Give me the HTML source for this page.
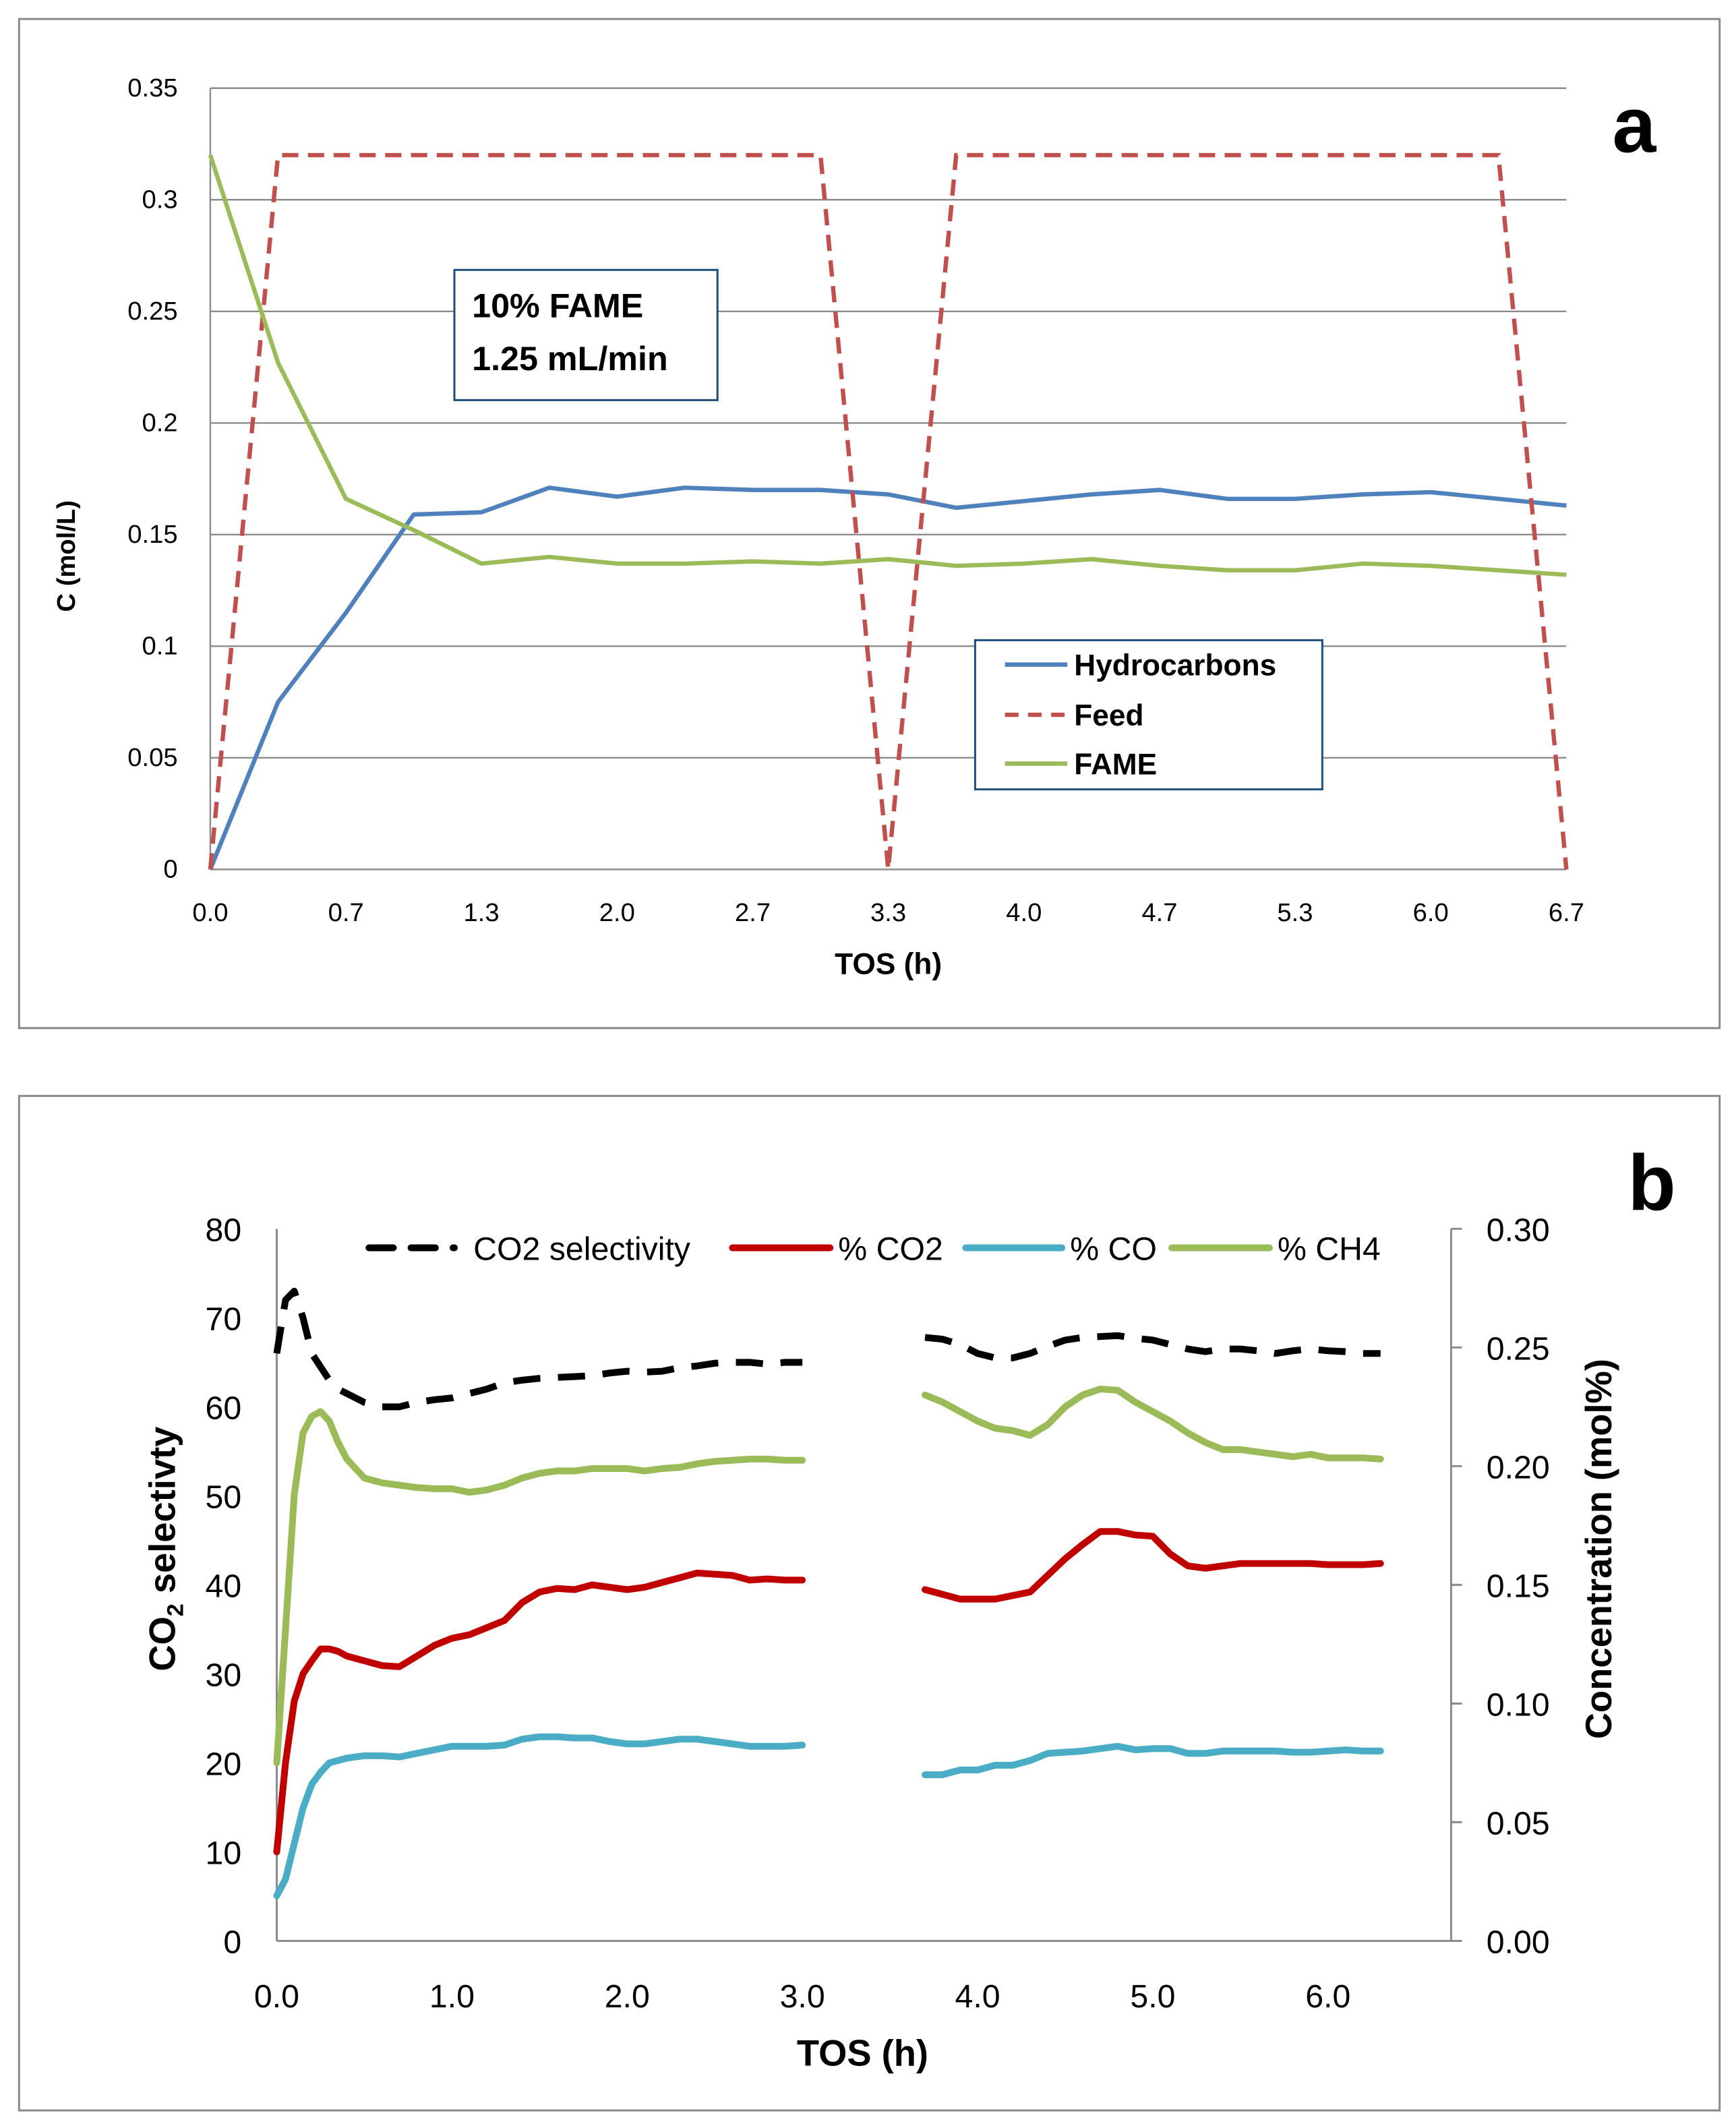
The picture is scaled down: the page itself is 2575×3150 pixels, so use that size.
<!DOCTYPE html>
<html><head><meta charset="utf-8"><style>
html,body{margin:0;padding:0;background:#fff;}
svg{display:block;}
text{font-family:"Liberation Sans",sans-serif;}
</style></head><body>
<svg id="fig" width="2575" height="3150" viewBox="0 0 1280 1566" xmlns="http://www.w3.org/2000/svg">
<rect x="14" y="14" width="1254" height="744" fill="#fff" stroke="#8a8a8a" stroke-width="1.5"/>
<rect x="14" y="808" width="1254" height="748" fill="#fff" stroke="#8a8a8a" stroke-width="1.5"/>
<g id="pa"></g>
<g id="pb"></g>
</svg>
<script>
// ---------- Panel a data ----------
const aTimes = [0,0.333,0.667,1.0,1.333,1.667,2.0,2.333,2.667,3.0,3.333,3.667,4.0,4.333,4.667,5.0,5.333,5.667,6.0,6.333,6.667];
const aHydro = [0,0.075,0.115,0.159,0.160,0.171,0.167,0.171,0.170,0.170,0.168,0.162,0.165,0.168,0.170,0.166,0.166,0.168,0.169,0.166,0.163];
const aFame = [0.32,0.227,0.166,0.152,0.137,0.140,0.137,0.137,0.138,0.137,0.139,0.136,0.137,0.139,0.136,0.134,0.134,0.137,0.136,0.134,0.132];
const aFeedTimes = [0,0.333,3.0,3.333,3.667,6.333,6.667];
const aFeed = [0,0.32,0.32,0,0.32,0.32,0];
const aYTicks = [0,0.05,0.1,0.15,0.2,0.25,0.3,0.35];
const aYTickLabels = ["0","0.05","0.1","0.15","0.2","0.25","0.3","0.35"];
const aXTicks = [0,0.667,1.333,2.0,2.667,3.333,4.0,4.667,5.333,6.0,6.667];
const aXTickLabels = ["0.0","0.7","1.3","2.0","2.7","3.3","4.0","4.7","5.3","6.0","6.7"];

// ---------- Panel b data ----------
const bTimes1 = [0,0.05,0.1,0.15,0.2,0.25,0.3,0.35,0.4,0.5,0.6,0.7,0.8,0.9,1.0,1.1,1.2,1.3,1.4,1.5,1.6,1.7,1.8,1.9,2.0,2.1,2.2,2.3,2.4,2.5,2.6,2.7,2.8,2.9,3.0];
const bTimes2 = [3.7,3.8,3.9,4.0,4.1,4.2,4.3,4.4,4.5,4.6,4.7,4.8,4.9,5.0,5.1,5.2,5.3,5.4,5.5,5.6,5.7,5.8,5.9,6.0,6.1,6.2,6.3];
const selec1 = [66,72,73,70,66,64.5,63,62,61.5,60.5,60,60,60.5,60.8,61,61.5,62,62.7,63,63.2,63.3,63.4,63.5,63.8,64,63.9,64,64.4,64.6,64.9,65,65,64.8,65,65];
const selec2 = [67.8,67.6,67,66,65.5,65.5,66,66.8,67.5,67.8,67.9,68,67.7,67.5,67,66.5,66.2,66.5,66.5,66.3,66,66.3,66.5,66.3,66.2,66,66];
// concentration series in mol%
const ch4Pct1 = [0.075,0.131,0.188,0.214,0.221,0.223,0.219,0.210,0.203,0.195,0.193,0.192,0.191,0.1905,0.1905,0.189,0.190,0.192,0.195,0.197,0.198,0.198,0.199,0.199,0.199,0.198,0.199,0.1995,0.201,0.202,0.2025,0.203,0.203,0.2025,0.2025];
const ch4Pct2 = [0.230,0.227,0.223,0.219,0.216,0.215,0.213,0.2175,0.225,0.230,0.2325,0.232,0.227,0.223,0.219,0.214,0.210,0.207,0.207,0.206,0.205,0.204,0.205,0.2035,0.2035,0.2035,0.203];
const co2Pct1 = [0.0375,0.075,0.101,0.1125,0.118,0.123,0.123,0.122,0.120,0.118,0.116,0.1155,0.120,0.1245,0.1275,0.129,0.132,0.135,0.1425,0.147,0.1485,0.148,0.150,0.149,0.148,0.149,0.151,0.153,0.155,0.1545,0.154,0.152,0.1525,0.152,0.152];
const co2Pct2 = [0.148,0.146,0.144,0.144,0.144,0.1455,0.147,0.154,0.161,0.167,0.1725,0.1725,0.171,0.1705,0.163,0.158,0.157,0.158,0.159,0.159,0.159,0.159,0.159,0.1585,0.1585,0.1585,0.159];
const coPct1 = [0.019,0.026,0.041,0.056,0.066,0.071,0.075,0.076,0.077,0.078,0.078,0.0775,0.079,0.0805,0.082,0.082,0.082,0.0825,0.085,0.086,0.086,0.0855,0.0855,0.084,0.083,0.083,0.084,0.085,0.085,0.084,0.083,0.082,0.082,0.082,0.0825];
const coPct2 = [0.070,0.070,0.072,0.072,0.074,0.074,0.076,0.079,0.0795,0.080,0.081,0.082,0.0805,0.081,0.081,0.079,0.079,0.080,0.080,0.080,0.080,0.0795,0.0795,0.080,0.0805,0.080,0.080];
const bLeftTicks = [0,10,20,30,40,50,60,70,80];
const bRightTicks = [0,0.05,0.10,0.15,0.20,0.25,0.30];
const bRightTickLabels = ["0.00","0.05","0.10","0.15","0.20","0.25","0.30"];
const bXTicks = [0,1,2,3,4,5,6];
const bXTickLabels = ["0.0","1.0","2.0","3.0","4.0","5.0","6.0"];

const NS = "http://www.w3.org/2000/svg";
function mk(parent, tag, attrs, txt){const e=document.createElementNS(NS,tag);for(const k in attrs)e.setAttribute(k,attrs[k]);if(txt!==undefined)e.textContent=txt;parent.appendChild(e);return e;}
function pathD(xs,ys,fx,fy){return xs.map((x,i)=>(i?"L":"M")+fx(x).toFixed(2)+","+fy(ys[i]).toFixed(2)).join(" ");}

// ===== Panel a =====
const pa = document.getElementById('pa');
const ax = t => 155 + t/6.667*1000;
const ay = v => 641 - v/0.35*576;
aYTicks.forEach((v,i)=>{
  if(i>0){const g=mk(pa,'line',{x1:155,x2:1155,y1:ay(v),y2:ay(v),stroke:'#8c8c8c','stroke-width':1.2});
  
  }
  const t=mk(pa,'text',{x:131,y:ay(v)+6,'text-anchor':'end','font-size':19},aYTickLabels[i]);
  
  
});
const aAxis=mk(pa,'line',{x1:155,x2:1155,y1:641,y2:641,stroke:'#8c8c8c','stroke-width':1.2});


const aYAxis=mk(pa,'line',{x1:155,x2:155,y1:65,y2:641,stroke:'#8c8c8c','stroke-width':1.2});


aXTicks.forEach((t,i)=>{
  const l=mk(pa,'text',{x:ax(t),y:679,'text-anchor':'middle','font-size':19},aXTickLabels[i]);
  
  
});
const pHyd=mk(pa,'path',{d:pathD(aTimes,aHydro,ax,ay),fill:'none',stroke:'#4F81BD','stroke-width':3.2,'stroke-linejoin':'round'});


const pFeed=mk(pa,'path',{d:pathD(aFeedTimes,aFeed,ax,ay),fill:'none',stroke:'#C0504D','stroke-width':3.2,'stroke-dasharray':'12,7'});


const pFame=mk(pa,'path',{d:pathD(aTimes,aFame,ax,ay),fill:'none',stroke:'#9BBB59','stroke-width':3.2,'stroke-linejoin':'round'});


let e;
e=mk(pa,'text',{x:655,y:718,'text-anchor':'middle','font-size':22,'font-weight':'bold'},'TOS (h)');


e=mk(pa,'text',{x:0,y:0,'text-anchor':'middle','font-size':19,'font-weight':'bold',transform:'translate(55,410) rotate(-90)'},'C (mol/L)');


e=mk(pa,'text',{x:1205,y:112,'text-anchor':'middle','font-size':58,'font-weight':'bold'},'a');


e=mk(pa,'rect',{x:335,y:199,width:194,height:96,fill:'#fff',stroke:'#1F4E79','stroke-width':1.5});


e=mk(pa,'text',{x:348,y:234,'font-size':25,'font-weight':'bold'},'10% FAME');


e=mk(pa,'text',{x:348,y:273,'font-size':25,'font-weight':'bold'},'1.25 mL/min');


e=mk(pa,'rect',{x:719,y:472,width:256,height:110,fill:'#fff',stroke:'#1F4E79','stroke-width':1.5});


[['Hydrocarbons','#4F81BD',null,490],['Feed','#C0504D','10,7',527],['FAME','#9BBB59',null,563]].forEach(r=>{
  const ln=mk(pa,'line',{x1:741,x2:787,y1:r[3],y2:r[3],stroke:r[1],'stroke-width':3.2});
  if(r[2])ln.setAttribute('stroke-dasharray',r[2]);
  
  
  const tx=mk(pa,'text',{x:792,y:r[3]+8,'font-size':22,'font-weight':'bold'},r[0]);
  
  
});

// ===== Panel b =====
const pb = document.getElementById('pb');
const bx = t => 204 + t*129.2;
const byL = v => 1431 - v*6.5625;
const byR = v => 1431 - v/0.30*525;
e=mk(pb,'line',{x1:204,x2:204,y1:906,y2:1431,stroke:'#8c8c8c','stroke-width':1.5});


e=mk(pb,'line',{x1:1070,x2:1070,y1:906,y2:1431,stroke:'#8c8c8c','stroke-width':1.5});


e=mk(pb,'line',{x1:204,x2:1070,y1:1431,y2:1431,stroke:'#8c8c8c','stroke-width':1.5});


bLeftTicks.forEach(v=>{
  const t=mk(pb,'text',{x:178,y:byL(v)+9,'text-anchor':'end','font-size':24},String(v));
  
  
});
bRightTicks.forEach((v,i)=>{
  const tk=mk(pb,'line',{x1:1070,x2:1078,y1:byR(v),y2:byR(v),stroke:'#8c8c8c','stroke-width':1.5});
  
  
  const t=mk(pb,'text',{x:1096,y:byR(v)+9,'font-size':24},bRightTickLabels[i]);
  
  
});
bXTicks.forEach((t,i)=>{
  const l=mk(pb,'text',{x:bx(t),y:1480,'text-anchor':'middle','font-size':24},bXTickLabels[i]);
  
  
});
function series(xs,ys,fy,color,dash,name){
  const p=mk(pb,'path',{d:pathD(xs,ys,bx,fy),fill:'none',stroke:color,'stroke-width':5,'stroke-linejoin':'round','stroke-linecap':dash?'butt':'round'});
  if(dash)p.setAttribute('stroke-dasharray',dash);
  
  
}
series(bTimes1,coPct1,byR,'#4BACC6',null,'co-line-1');
series(bTimes2,coPct2,byR,'#4BACC6',null,'co-line-2');
series(bTimes1,co2Pct1,byR,'#C00000',null,'co2-line-1');
series(bTimes2,co2Pct2,byR,'#C00000',null,'co2-line-2');
series(bTimes1,ch4Pct1,byR,'#9BBB59',null,'ch4-line-1');
series(bTimes2,ch4Pct2,byR,'#9BBB59',null,'ch4-line-2');
series(bTimes1,selec1,byL,'#000000','20,13','co2-selectivity-line-1');
series(bTimes2,selec2,byL,'#000000','20,13','co2-selectivity-line-2');
[[272,335,'#000','18,13','CO2 selectivity',349],[540,612,'#C00000',null,'% CO2',618],[712,783,'#4BACC6',null,'% CO',789],[864,936,'#9BBB59',null,'% CH4',942]].forEach(r=>{
  const ln=mk(pb,'line',{x1:r[0],x2:r[1],y1:920,y2:920,stroke:r[2],'stroke-width':5,'stroke-linecap':'round'});
  if(r[3]){ln.setAttribute('stroke-dasharray',r[3]);}
  
  
  const tx=mk(pb,'text',{x:r[5],y:929,'font-size':24},r[4]);
  
  
});
e=mk(pb,'text',{x:636,y:1523,'text-anchor':'middle','font-size':27,'font-weight':'bold'},'TOS (h)');


e=mk(pb,'text',{x:0,y:0,'text-anchor':'middle','font-size':27,'font-weight':'bold',transform:'translate(129,1142) rotate(-90)'});


mk(e,'tspan',{},'CO');
mk(e,'tspan',{'font-size':17,dy:6},'2');
mk(e,'tspan',{dy:-6},' selectivty');
e=mk(pb,'text',{x:0,y:0,'text-anchor':'middle','font-size':27,'font-weight':'bold',transform:'translate(1188,1142) rotate(-90)'},'Concentration (mol%)');


e=mk(pb,'text',{x:1218,y:892,'text-anchor':'middle','font-size':58,'font-weight':'bold'},'b');


</script>
</body></html>
